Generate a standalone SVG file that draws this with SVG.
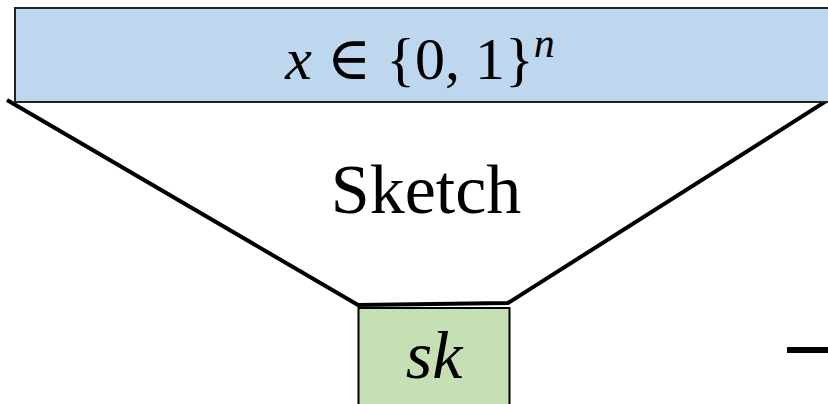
<svg xmlns="http://www.w3.org/2000/svg" width="828" height="404" viewBox="0 0 828 404">
<style>
.t{font-family:"Liberation Serif","DejaVu Serif",serif;fill:#000}
.i{font-style:italic}
.edge{stroke:#000;stroke-width:4;fill:none;stroke-linejoin:miter}
</style>
<rect width="828" height="404" fill="#fff"/>
<g id="connectors">
<polyline class="edge" points="7,100 358,305 508,303 828,100"/>
<line x1="787" y1="350" x2="828" y2="350" stroke="#000" stroke-width="6"/>
</g>
<g id="input">
<rect x="15" y="8" width="820" height="94" fill="#bdd7ee" stroke="#222" stroke-width="2"/>
<text class="t" x="420" y="79" font-size="60" text-anchor="middle"><tspan class="i">x</tspan> ∈ {0, 1}<tspan class="i" font-size="42" dy="-22">n</tspan></text>
</g>
<g id="sketch">
<text class="t" x="426" y="213" font-size="70" text-anchor="middle">Sketch</text>
</g>
<g id="sk">
<rect x="358.5" y="308" width="151" height="110" fill="#c5e0b4" stroke="#000" stroke-width="2"/>
<text class="t i" x="434" y="378" font-size="68" text-anchor="middle">sk</text>
</g>
</svg>
